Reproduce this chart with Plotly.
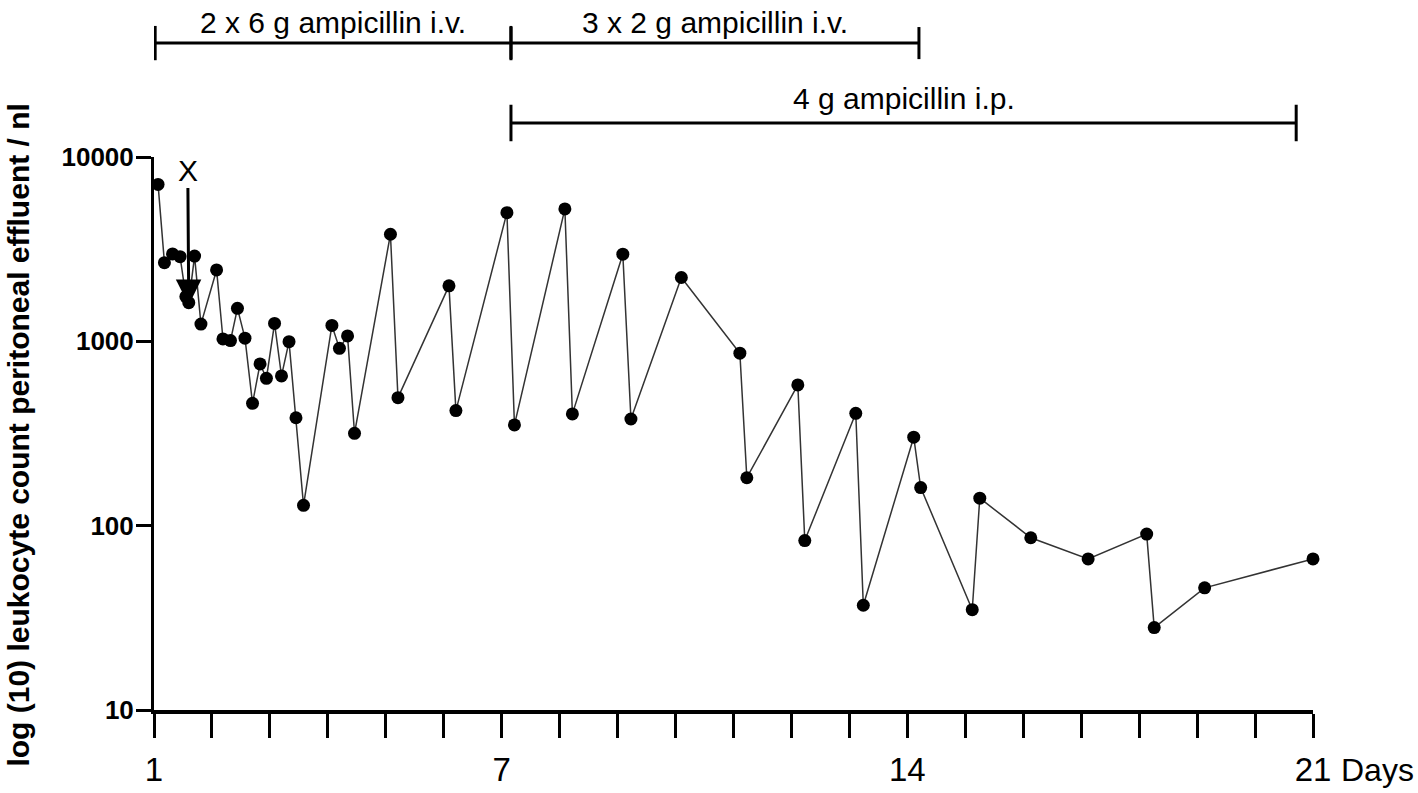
import math
import plotly.graph_objects as go

# sampling times (days) and leukocyte counts per nl
days = [1.07, 1.18, 1.32, 1.45, 1.55, 1.60, 1.70, 1.81,
        2.08, 2.19, 2.32, 2.44, 2.57, 2.70, 2.83, 2.94,
        3.08, 3.20, 3.33, 3.45, 3.58,
        4.07, 4.20, 4.34, 4.46,
        5.08, 5.21, 6.09, 6.21, 7.09, 7.22, 8.09, 8.22,
        9.09, 9.23, 10.10, 11.11, 11.23, 12.11, 12.23,
        13.11, 13.24, 14.11, 14.23, 15.12, 15.25, 16.13,
        17.12, 18.13, 18.26, 19.13, 21.0]
leukocytes = [7100, 2670, 2980, 2880, 1750, 1620, 2900, 1240,
              2440, 1030, 1010, 1510, 1040, 461, 754, 630,
              1250, 649, 996, 385, 129,
              1220, 916, 1070, 317,
              3810, 495, 2000, 421, 4990, 352, 5230, 404,
              2970, 379, 2220, 862, 182, 580, 83,
              407, 37, 302, 161, 35, 141, 86,
              66, 90, 28, 46, 66]

# treatment periods: label, start day, end day
regimen_labels = ["2 x 6 g ampicillin i.v.", "3 x 2 g ampicillin i.v.", "4 g ampicillin i.p."]
regimen_start = [1.02, 7.16, 7.16]
regimen_end = [7.16, 14.20, 20.71]

# event marked with X
event_day = 1.60
event_value = 1574

y_ticks = [10, 100, 1000, 10000]
x_ticks = list(range(1, 22))
x_ticklabels = [str(d) if d in (1, 7, 14, 21) else "" for d in x_ticks]

sans = "Liberation Sans, Arial, sans-serif"

fig = go.Figure()
fig.add_trace(go.Scatter(
    x=days, y=leukocytes, mode="lines+markers",
    line=dict(color="#333333", width=1.5),
    marker=dict(color="black", size=13),
    cliponaxis=False, showlegend=False,
))

shapes = []
annotations = []
# bracket rows: line y, half tick height, label y (paper)
rows = [(1.206, 0.031, 1.243), (1.206, 0.029, 1.243), (1.0615, 0.033, 1.106)]
for i, label in enumerate(regimen_labels):
    yl, half, yt = rows[i]
    x0, x1 = regimen_start[i], regimen_end[i]
    line = dict(color="black", width=3)
    shapes.append(dict(type="line", xref="x", yref="paper", x0=x0, x1=x1, y0=yl, y1=yl, line=line))
    for xe in (x0, x1):
        shapes.append(dict(type="line", xref="x", yref="paper", x0=xe, x1=xe,
                           y0=yl - half, y1=yl + half, line=line))
    annotations.append(dict(xref="x", yref="paper", x=(x0 + x1) / 2, y=yt, text=label,
                            xanchor="center", yanchor="middle", showarrow=False,
                            font=dict(family=sans, size=30, color="black")))

annotations.append(dict(
    x=event_day, y=math.log10(event_value), xref="x", yref="y", text="X",
    showarrow=True, ax=-1, ay=-135, arrowhead=2, arrowwidth=3, arrowsize=1.7,
    arrowcolor="black", font=dict(family=sans, size=30, color="black"),
))
annotations.append(dict(
    xref="paper", yref="paper", x=-0.117, y=0.497, textangle=-90, showarrow=False,
    xanchor="center", yanchor="middle",
    text="log (10) leukocyte count peritoneal effluent / nl",
    font=dict(family=sans, size=30, color="black", weight="bold"),
))
annotations.append(dict(
    xref="paper", yref="paper", x=1.056, y=-0.1085, text="Days", showarrow=False,
    xanchor="center", yanchor="middle",
    font=dict(family=sans, size=32, color="black"),
))

fig.update_layout(
    width=1418, height=793,
    margin=dict(l=154, r=105, t=157, b=83),
    paper_bgcolor="white", plot_bgcolor="white",
    shapes=shapes, annotations=annotations,
    xaxis=dict(
        range=[1, 21], tickvals=x_ticks, ticktext=x_ticklabels,
        showline=True, linewidth=4, linecolor="black",
        ticks="outside", ticklen=24, tickwidth=3, tickcolor="black",
        showgrid=False, zeroline=False, ticklabelstandoff=3, automargin=False,
        tickfont=dict(family=sans, size=33, color="black"),
    ),
    yaxis=dict(
        type="log", range=[1, 4], tickvals=y_ticks, ticktext=[str(v) for v in y_ticks],
        showline=True, linewidth=3, linecolor="black",
        ticks="outside", ticklen=15, tickwidth=3, tickcolor="black",
        showgrid=False, zeroline=False, ticklabelstandoff=-3, automargin=False,
        tickfont=dict(family=sans, size=26, color="black", weight="bold"),
    ),
)

# drop the default page margin so the figure fills the window exactly
fig.write_html("out.html", config={"displayModeBar": False},
               post_script="document.body.style.margin='0';")
